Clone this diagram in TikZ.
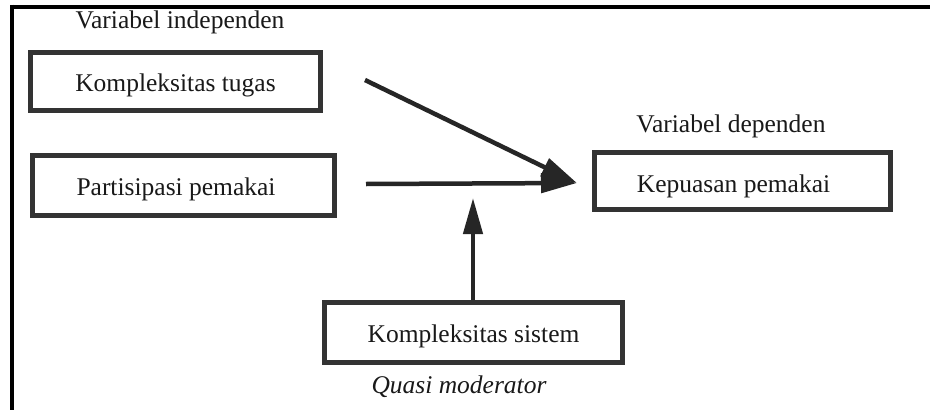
\documentclass[tikz,border=0pt]{standalone}
\usepackage{fontspec}
\setmainfont{Liberation Serif}
\usetikzlibrary{arrows.meta}
% box label with its baseline set a fixed distance below the box centre
\newcommand{\boxlabel}[2]{\raisebox{-#1}[0pt][0pt]{#2}}
\begin{document}
\begin{tikzpicture}[x=1pt,y=-1pt,
  varbox/.style={draw=black!80, line width=4.5pt, inner sep=0pt, text=black!90,
    font=\fontsize{25.5}{28}\selectfont, anchor=center},
  caption/.style={text=black!90, font=\fontsize{25.5}{28}\selectfont, inner sep=0pt},
  arr/.style={draw=black!85, line width=4.5pt,
    -{Triangle[length=36pt,width=19pt]}}
]
\useasboundingbox (0,0) rectangle (930,410);
\fill[white] (0,0) rectangle (930,410);

% page frame: top rule and left rule
\draw[black, line width=4pt] (10,6.5) -- (930,6.5);
\draw[black, line width=4pt] (12,4.5) -- (12,410);

% headings
\node[caption] (hind) at (180,22) {Variabel independen};
\node[caption] (hdep) at (731,126) {Variabel dependen};

% variable boxes
\node[varbox, minimum width=290pt, minimum height=58pt] (tugas) at (175.5,81.5) {\boxlabel{10pt}{Kompleksitas tugas}};
\node[varbox, minimum width=302pt, minimum height=60pt] (partisipasi) at (183.5,185.5) {\hspace*{-15pt}\boxlabel{9.5pt}{Partisipasi pemakai}};
\node[varbox, minimum width=296pt, minimum height=57pt] (kepuasan) at (742.5,181) {\hspace*{-18pt}\boxlabel{11pt}{Kepuasan pemakai}};
\node[varbox, minimum width=298pt, minimum height=60pt] (sistem) at (473.5,332.5) {\boxlabel{10pt}{Kompleksitas sistem}};

\node[caption, font=\fontsize{25.5}{28}\selectfont\itshape] (quasi) at (459,387) {Quasi moderator};

% arrow end points
\coordinate (tugasend) at (365,80);
\coordinate (partend) at (366,184);
\coordinate (tip) at (577,183);
\coordinate (vtip) at (473,198);

\draw[arr] (tugasend) -- (tip);
\draw[arr] (partend) -- (tip);
\draw[arr] (sistem.north -| vtip) -- (vtip);
\end{tikzpicture}
\end{document}
